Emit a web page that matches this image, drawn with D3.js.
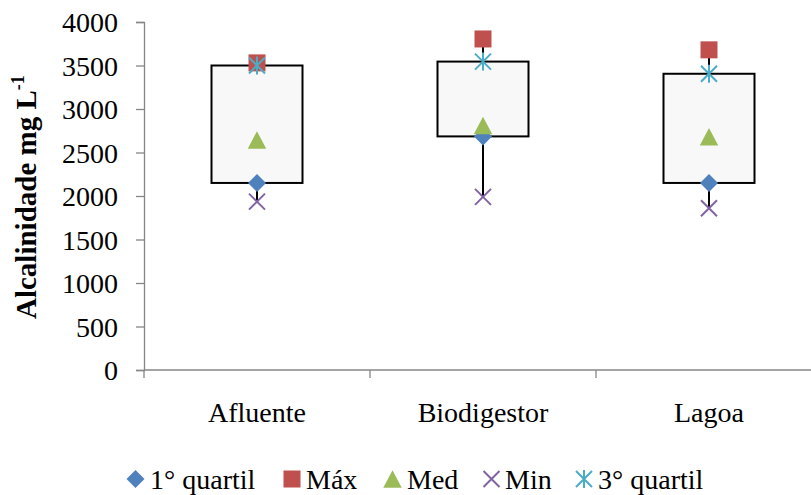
<!DOCTYPE html>
<html>
<head>
<meta charset="utf-8">
<script src="https://cdn.jsdelivr.net/npm/d3@7"></script>
</head>
<body style="margin:0">
<svg id="chart" width="811" height="495"></svg>
<script>
// Alkalinity summary per sampling point
const categories = ["Afluente", "Biodigestor", "Lagoa"];
const q1Values   = [2150, 2685, 2150];
const maxValues  = [3530, 3805, 3680];
const medValues  = [2645, 2810, 2680];
const minValues  = [1935, 1990, 1860];
const q3Values   = [3500, 3545, 3405];
const yTicks     = [0, 500, 1000, 1500, 2000, 2500, 3000, 3500, 4000];
const seriesNames = ["1° quartil", "Máx", "Med", "Min", "3° quartil"];

const FONT = '"Liberation Serif"';
const fontSize = 28;
const axisColor = "#868686";

function serif(sel, size) {
  return sel.style("font-family", FONT).attr("font-size", size);
}

const svg = d3.select("#chart");
const plot = { left: 144, right: 822, top: 22, bottom: 370 };

const x = d3.scaleBand().domain(categories).range([plot.left, plot.right]).paddingInner(0).paddingOuter(0);
const y = d3.scaleLinear().domain([0, 4000]).range([plot.bottom, plot.top]);

// Y axis
const yAxis = svg.append("g")
  .attr("transform", `translate(${plot.left},0)`)
  .call(d3.axisLeft(y).tickValues(yTicks).tickSize(8).tickPadding(18).tickFormat(d3.format("d")));
yAxis.attr("font-family", null).attr("font-size", null);
yAxis.select(".domain").attr("stroke", axisColor).attr("stroke-width", 1.3);
yAxis.selectAll(".tick line").attr("stroke", axisColor).attr("stroke-width", 1.3);
serif(yAxis.selectAll(".tick text"), fontSize)
  .attr("fill", "#000")
  .attr("dy", "0.34em");

// X axis with ticks on band boundaries
const xAxisG = svg.append("g").attr("transform", `translate(0,${plot.bottom})`);
xAxisG.append("line")
  .attr("x1", plot.left).attr("x2", plot.right)
  .attr("stroke", axisColor).attr("stroke-width", 1.3);
const boundaries = categories.map(c => x(c)).concat([x(categories[categories.length - 1]) + x.bandwidth()]);
xAxisG.selectAll("line.tk").data(boundaries).enter().append("line")
  .attr("class", "tk")
  .attr("x1", d => d).attr("x2", d => d)
  .attr("y1", 0).attr("y2", 8)
  .attr("stroke", axisColor).attr("stroke-width", 1.3);
serif(xAxisG.selectAll("text").data(categories).enter().append("text"), fontSize)
  .attr("x", d => x(d) + x.bandwidth() / 2)
  .attr("y", 52)
  .attr("text-anchor", "middle")
  .attr("fill", "#000")
  .text(d => d);

// Y axis title
const title = serif(svg.append("text"), 29)
  .attr("transform", "translate(36,319) rotate(-90)")
  .attr("font-weight", "bold")
  .attr("fill", "#000");
title.append("tspan").text("Alcalinidade mg L");
title.append("tspan").attr("font-size", 18).attr("dy", -12).text("-1");

// Marker shapes
const colors = ["#4F81BD", "#C0504D", "#9BBB59", "#8064A2", "#4BACC6"];
function drawMarker(g, kind, cx, cy) {
  if (kind === 0) {
    const r = 9;
    g.append("path").attr("d", `M${cx},${cy - r}L${cx + r},${cy}L${cx},${cy + r}L${cx - r},${cy}Z`).attr("fill", colors[0]);
  } else if (kind === 1) {
    const s = 17;
    g.append("rect").attr("x", cx - s / 2).attr("y", cy - s / 2).attr("width", s).attr("height", s).attr("fill", colors[1]);
  } else if (kind === 2) {
    const w = 18.5, h = 17.5;
    g.append("path").attr("d", `M${cx},${cy - h / 2}L${cx + w / 2},${cy + h / 2}L${cx - w / 2},${cy + h / 2}Z`).attr("fill", colors[2]);
  } else if (kind === 3) {
    const r = 8;
    g.append("path").attr("d", `M${cx - r},${cy - r}L${cx + r},${cy + r}M${cx - r},${cy + r}L${cx + r},${cy - r}`)
      .attr("stroke", colors[3]).attr("stroke-width", 2).attr("fill", "none");
  } else {
    const r = 8;
    g.append("path").attr("d", `M${cx - r},${cy - r}L${cx + r},${cy + r}M${cx - r},${cy + r}L${cx + r},${cy - r}M${cx},${cy - r - 1}L${cx},${cy + r + 1}`)
      .attr("stroke", colors[4]).attr("stroke-width", 2).attr("fill", "none");
  }
}

const boxWidth = 91;
const marks = svg.append("g");
categories.forEach((c, i) => {
  const cx = x(c) + x.bandwidth() / 2;
  // high-low line
  marks.append("line")
    .attr("x1", cx).attr("x2", cx)
    .attr("y1", y(minValues[i])).attr("y2", y(maxValues[i]))
    .attr("stroke", "#000").attr("stroke-width", 2);
  // quartile box
  const top = y(Math.max(q1Values[i], q3Values[i]));
  const bot = y(Math.min(q1Values[i], q3Values[i]));
  marks.append("rect")
    .attr("x", cx - boxWidth / 2).attr("y", top)
    .attr("width", boxWidth).attr("height", bot - top)
    .attr("fill", "#F8F8F8").attr("stroke", "#000").attr("stroke-width", 2);
});

const series = [q1Values, maxValues, medValues, minValues, q3Values];
series.forEach((vals, k) => {
  categories.forEach((c, i) => {
    drawMarker(marks, k, x(c) + x.bandwidth() / 2, y(vals[i]));
  });
});

// Legend
const legendItems = [
  { mx: 135.5, tx: 150 },
  { mx: 292, tx: 306 },
  { mx: 392.5, tx: 407 },
  { mx: 491.5, tx: 505 },
  { mx: 584, tx: 598 }
];
const legend = svg.append("g");
seriesNames.forEach((name, k) => {
  drawMarker(legend, k, legendItems[k].mx, 479);
  serif(legend.append("text"), fontSize)
    .attr("x", legendItems[k].tx).attr("y", 489)
    .attr("fill", "#000")
    .text(name);
});
</script>
</body>
</html>
